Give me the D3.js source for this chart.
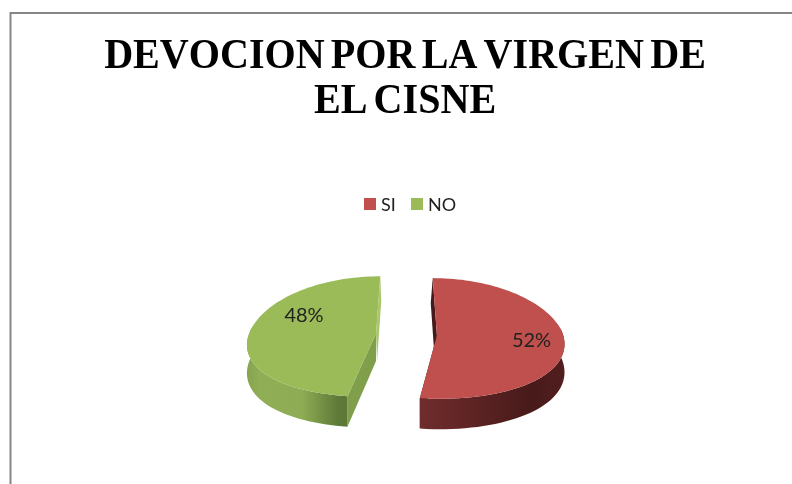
<!DOCTYPE html>
<html>
<head>
<meta charset="utf-8">
<script src="https://cdnjs.cloudflare.com/ajax/libs/d3/7.8.5/d3.min.js"></script>
<style>
html, body { margin: 0; padding: 0; background: #fff; overflow: hidden; }
svg { display: block; filter: blur(0.45px); }
</style>
</head>
<body>
<svg id="chart" width="792" height="484"></svg>
<script>
// values
var categories = ["SI", "NO"];
var values = [52, 48];
var titleLines = ["DEVOCION POR LA VIRGEN DE", "EL CISNE"];

var colors = ["#c0504d", "#9bbb59"];
var cutColors = ["#451a1a", "#7f9f4b"];
var backColors = ["#451a1a", "#a9c76c"];
var wallStops = [
    [["0%", "#702c2c"], ["35%", "#5f2424"], ["75%", "#481a1a"], ["100%", "#521e1e"]],
    [["0%", "#86a44e"], ["12%", "#8fae55"], ["55%", "#8dac54"], ["90%", "#5f7a38"], ["100%", "#5c7736"]]
];

// pie geometry, tilted with a little perspective
var cx = 406.5, cy = 334.5;
var R = 124;
var explode = 30.5;
var squash = 0.485;
var kRim = 0.22, kExplode = 0.16, ky = 0.05;
var sideLift = 6; // the pie sides sit higher than a plain ellipse
var frontShear = 3; // and the front leans a bit to the left
var depth = 27.5;
var backInset = [2, 1];

var svg = d3.select("#chart");
var defs = svg.append("defs");

// chart frame, cut off by the right and bottom of the picture
svg.append("path")
    .attr("d", d3.line()([[10.5, 484], [10.5, 13], [792, 13]]))
    .attr("fill", "none")
    .attr("stroke", "#868686")
    .attr("stroke-width", 2);

var title = svg.append("g")
    .attr("font-family", "'Liberation Serif', serif")
    .attr("font-weight", "bold")
    .attr("font-size", 42)
    .attr("fill", "#000")
    .attr("text-anchor", "middle")
    .style("font-kerning", "none");

title.selectAll("text")
    .data(titleLines)
    .enter().append("text")
    .attr("transform", function (d, i) { return "translate(405," + (68 + i * 45) + ") scale(0.955,1)"; })
    .attr("word-spacing", -4)
    .text(function (d) { return d; });

// legend
var legendX = d3.scaleOrdinal().domain(categories).range([364, 411]);
var legend = svg.append("g").selectAll("g")
    .data(categories)
    .enter().append("g")
    .attr("transform", function (d) { return "translate(" + legendX(d) + ",198)"; });

legend.append("rect")
    .attr("width", 12)
    .attr("height", 12)
    .attr("fill", function (d, i) { return colors[i]; });

legend.append("text")
    .attr("x", 17)
    .attr("y", 13)
    .attr("font-family", "Lato, sans-serif")
    .attr("font-size", 18)
    .attr("fill", "#222")
    .text(function (d) { return d; });

var pie = d3.pie().sort(null)(values);

// screen position of a point on a slice, h is the height below the top face
function project(d, theta, r, h) {
    var mid = (d.startAngle + d.endAngle) / 2;
    var sin = Math.sin(theta), cos = Math.cos(theta);
    var X = r * sin, Z = r * cos;
    var sRim = 1 / (1 + Z / R * kRim);
    var sExplode = 1 / (1 + Z / R * kExplode);
    var sy = 1 / (1 + Z / R * ky);
    return [
        cx + X * sRim + explode * Math.sin(mid) * sExplode + frontShear * Math.min(0, cos) * r / R,
        cy + (-Z * squash - explode * Math.cos(mid) * squash) * sy
            - sideLift * sin * sin * r / R
            + (h || 0) * sy * sy
    ];
}

function rimAngles(d) {
    var a = d3.scaleLinear().domain([0, 80]).range([d.startAngle, d.endAngle]);
    return d3.range(81).map(a);
}

function rim(d, h, angles) {
    return angles.map(function (t) { return project(d, t, R, h); });
}

var line = d3.line();

var slices = svg.append("g").selectAll("g")
    .data(pie)
    .enter().append("g");

slices.each(function (d, i) {
    var g = d3.select(this);

    var grad = defs.append("linearGradient").attr("id", "wall" + i);
    grad.selectAll("stop")
        .data(wallStops[i])
        .enter().append("stop")
        .attr("offset", function (s) { return s[0]; })
        .attr("stop-color", function (s) { return s[1]; });

    // cut face at the back of the slice
    var backAngle = i === 0 ? d.startAngle : d.endAngle;
    var dir = i === 0 ? -1 : 1;
    var backRim = project(d, backAngle, R, 0);
    var backRimLow = project(d, backAngle, R, depth);
    var centre = project(d, backAngle, 0, 0);
    var centreLow = project(d, backAngle, 0, depth);
    g.append("path")
        .attr("d", line([
            backRim, centre,
            [centreLow[0] + dir * backInset[i], centreLow[1]],
            [backRimLow[0] + dir * backInset[i], backRimLow[1]]
        ]) + "Z")
        .attr("fill", backColors[i]);

    // cut face at the front of the slice
    var frontAngle = i === 0 ? d.endAngle : d.startAngle;
    g.append("path")
        .attr("d", line([
            project(d, frontAngle, 0, 0),
            project(d, frontAngle, R, 0),
            project(d, frontAngle, R, depth),
            project(d, frontAngle, 0, depth)
        ]) + "Z")
        .attr("fill", cutColors[i]);

    // outer wall, only the part that faces the front
    var all = rimAngles(d);
    var front = all.filter(function (t) { return Math.cos(t) < 0.05; });
    g.append("path")
        .attr("d", line(rim(d, 0, front).concat(rim(d, depth, front).reverse())) + "Z")
        .attr("fill", "url(#wall" + i + ")");

    // top face
    g.append("path")
        .attr("d", line(rim(d, 0, all).concat([project(d, 0, 0, 0)])) + "Z")
        .attr("fill", colors[i]);
});

// data labels
var labelAngle = [Math.PI * 0.56, Math.PI * 1.628];
var labelRadius = [0.75, 0.68];
slices.append("text")
    .attr("transform", function (d, i) {
        return "translate(" + project(d, labelAngle[i], R * labelRadius[i], 0) + ")";
    })
    .attr("dy", "0.36em")
    .attr("text-anchor", "middle")
    .attr("font-family", "Lato, sans-serif")
    .attr("font-size", 20)
    .attr("fill", "#222")
    .text(function (d) { return d.value + "%"; });
</script>
</body>
</html>
